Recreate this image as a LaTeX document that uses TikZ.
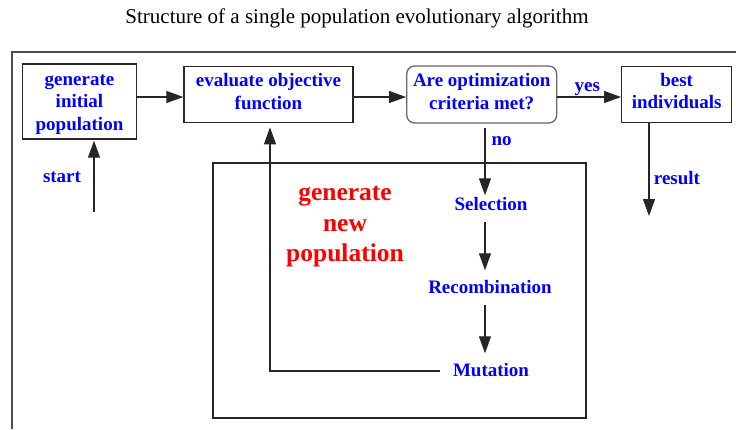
\documentclass[tikz,border=0pt]{standalone}
\usepackage{fontspec}
\setmainfont{Liberation Serif}[BoldFont={Liberation Serif Bold}]
\usetikzlibrary{arrows.meta}
\begin{document}
\begin{tikzpicture}[x=1pt,y=-1pt,
  bluetxt/.style={text=blue,font=\fontsize{19}{22.5}\selectfont\bfseries,align=center,inner sep=0pt},
  lbl/.style={bluetxt,text height=13pt,text depth=4pt},
  boxnode/.style={draw=black!85,line width=1.3pt,inner sep=0pt},
  redtxt/.style={text=red,font=\fontsize{25.5}{30.5}\selectfont\bfseries,align=center,inner sep=0pt},
  arr/.style={draw=black!85,line width=1.1pt,-{Triangle[length=17pt,width=12pt]}},
  frame/.style={draw=black!70,line width=1.5pt}]
\useasboundingbox (0,0) rectangle (736,429);
% title
\node[font=\fontsize{21}{24}\selectfont,inner sep=0pt] (title) at (357,18) {Structure of a single population evolutionary algorithm};
% outer frame
\draw[frame] (12,429) -- (12,52) -- (736,52);
% inner box
\draw[draw=black!85,line width=1.3pt] (213,163) rectangle (586,418);
% boxes
\node[boxnode,minimum width=114pt,minimum height=75pt] (b1) at (79.5,101.5) {};
\node[boxnode,minimum width=169pt,minimum height=56pt] (b2) at (268.5,94.7) {};
\node[boxnode,draw=black!60,rounded corners=8pt,minimum width=150pt,minimum height=57pt] (b3) at (481.7,94.5) {};
\node[boxnode,minimum width=110pt,minimum height=56pt] (b4) at (676.7,94.7) {};
\node[bluetxt] (b1t) at (79.5,104.5) {generate\\initial\\population};
\node[bluetxt] (b2t) at (268.5,91.7) {evaluate objective\\function};
\node[bluetxt] (b3t) at (481.7,91.7) {Are optimization\\criteria met?};
\node[bluetxt] (b4t) at (676.7,91) {best\\individuals};
% inner labels
\node[lbl] (sel) at (491,206) {Selection};
\node[lbl] (rec) at (490,289) {Recombination};
\node[lbl] (mut) at (491,372) {Mutation};
\node[redtxt] (gen) at (345,227) {generate\\new\\population};
% helper coordinates
\coordinate (row) at (0,97);
\coordinate (col) at (485,0);
\coordinate (st) at (94,212);
\coordinate (res) at (649,216);
\coordinate (fb) at (270,371);
% connectors
\draw[arr] (b1.east |- row) -- (b2.west |- row);
\draw[arr] (b2.east |- row) -- (b3.west |- row);
\draw[arr] (b3.east |- row) -- node[lbl,above=1pt,pos=0.47] (yes) {yes} (b4.west |- row);
\draw[arr,shorten <=4pt,shorten >=2pt] (b3.south -| col) -- node[lbl,right=6pt,pos=0.24] (no) {no} (sel.north -| col);
\draw[arr,shorten <=7pt,shorten >=10pt] (sel.south -| col) -- (rec.north -| col);
\draw[arr,shorten <=7pt,shorten >=10pt] (rec.south -| col) -- (mut.north -| col);
\draw[arr,shorten <=13pt,shorten >=4pt] (mut.west |- fb) -- (fb) -- (fb |- b2.south);
\draw[arr,shorten >=1pt] (st) -- (st |- b1.south);
\node[lbl] (start) at (62,178) {start};
\draw[arr] (b4.south -| res) -- (res);
\node[lbl] (result) at (677,180) {result};
\end{tikzpicture}
\end{document}
